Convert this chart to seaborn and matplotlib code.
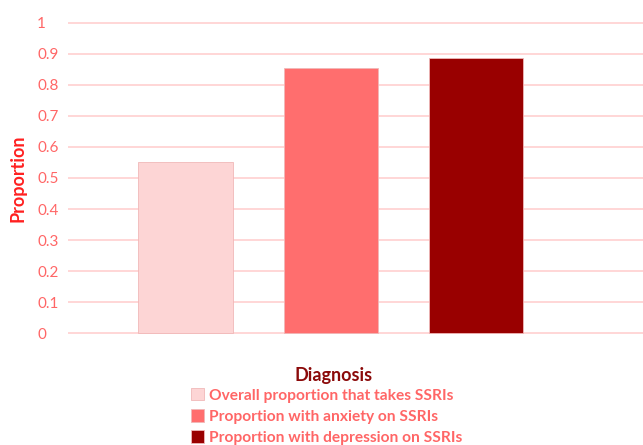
import matplotlib
matplotlib.use('Agg')
import matplotlib.pyplot as plt
import seaborn as sns
import pandas as pd

# Dati
categories = ['Overall proportion that takes SSRIs',
              'Proportion with anxiety on SSRIs',
              'Proportion with depression on SSRIs']
proportions = [0.551, 0.856, 0.888]
bar_colors = ['#fdd5d5', '#ff6e6e', '#990000']
yticks = [0, 0.1, 0.2, 0.3, 0.4, 0.5, 0.6, 0.7, 0.8, 0.9, 1]
ytick_labels = ['0', '0.1', '0.2', '0.3', '0.4', '0.5', '0.6', '0.7', '0.8', '0.9', '1']

df = pd.DataFrame({'diagnosis': categories, 'proportion': proportions})

sns.set_style('white')
plt.rcParams['font.family'] = ['Lato', 'DejaVu Sans']

fig = plt.figure(figsize=(6.43, 4.45), dpi=100)
ax = fig.add_axes([68 / 643, 1 - 334 / 445, 575 / 643, 312 / 445])

sns.barplot(data=df, x='diagnosis', y='proportion', hue='diagnosis',
            palette=bar_colors, saturation=1, dodge=False, width=0.65, legend=True,
            edgecolor='#f0b8b8', linewidth=0.6, ax=ax, zorder=3)

ax.set_xlim(-0.81, 3.15)
ax.set_ylim(-0.003, 1.003)
ax.set_yticks(yticks)
ax.set_yticklabels(ytick_labels)
ax.set_xticks([])
ax.set_xlabel('')
ax.grid(axis='y', color='#ffd0d0', linewidth=1.2, zorder=0)
ax.set_axisbelow(True)
for s in ax.spines.values():
    s.set_visible(False)
ax.tick_params(axis='y', length=0, pad=22.3, labelsize=11, labelcolor='#ff6666')
for lab in ax.get_yticklabels():
    lab.set_ha('left')

ax.set_ylabel('Proportion', color='#ff2020', fontsize=13, fontweight='bold')
ax.yaxis.set_label_coords(-0.072, 0.5)

# titolo della legenda messo a parte per centrarlo come nel riferimento
fig.text(334 / 643, 1 - 376 / 445, 'Diagnosis', ha='center', va='center',
         color='#8b0a0a', fontsize=13, fontweight='bold')

sns.move_legend(ax, 'upper left', bbox_to_anchor=(191 / 643, 1 - 388 / 445),
                bbox_transform=fig.transFigure, frameon=False,
                title=None, handlelength=0.85, handleheight=0.85,
                handletextpad=0.3, labelspacing=0.42, borderaxespad=0,
                borderpad=0, fontsize=11.2)
leg = ax.get_legend()
for t in leg.get_texts():
    t.set_color('#ff6666')
    t.set_fontweight('bold')

fig.savefig('out.png', dpi=100)
